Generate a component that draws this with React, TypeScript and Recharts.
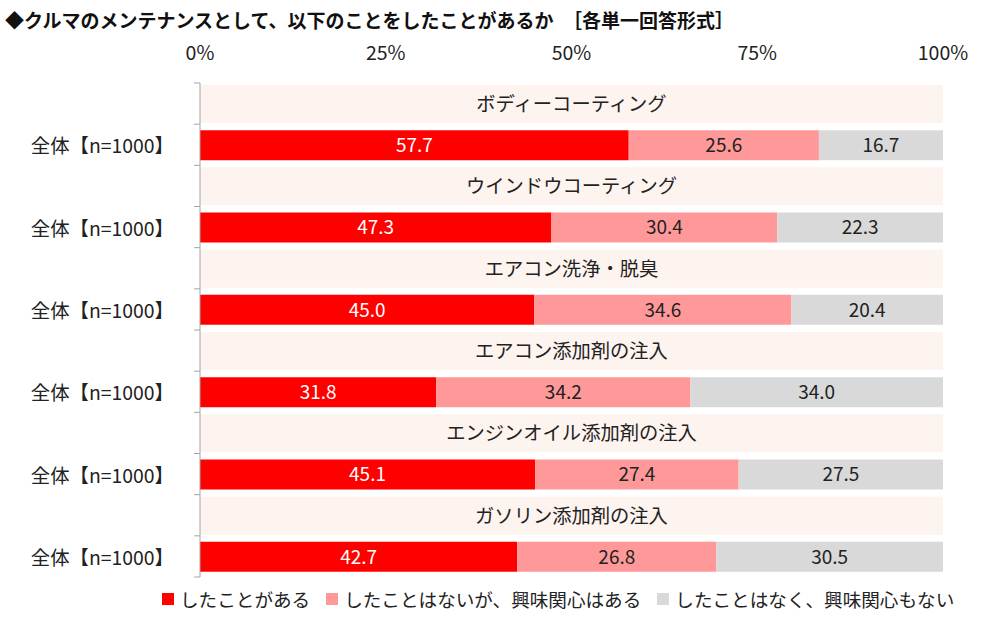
import { BarChart, Bar, XAxis, YAxis, LabelList, Legend } from 'recharts';

const FONT = '"Noto Sans CJK JP", "Noto Sans", sans-serif';

// survey items, one per header band
const items = [
  'ボディーコーティング',
  'ウインドウコーティング',
  'エアコン洗浄・脱臭',
  'エアコン添加剤の注入',
  'エンジンオイル添加剤の注入',
  'ガソリン添加剤の注入',
];
const groupLabel = '全体【n=1000】';

const seriesNames = ['したことがある', 'したことはないが、興味関心はある', 'したことはなく、興味関心もない'];
const done = [57.7, 47.3, 45.0, 31.8, 45.1, 42.7];
const interested = [25.6, 30.4, 34.6, 34.2, 27.4, 26.8];
const notInterested = [16.7, 22.3, 20.4, 34.0, 27.5, 30.5];

const xTicks = [0, 25, 50, 75, 100];

const colors = { done: '#ff0000', interested: '#ff9999', notInterested: '#d9d9d9', band: '#fdf3ef' };

// each item takes two rows: a title band and the stacked result bar
const rows = items.flatMap((title, i) => [
  { key: `t${i}`, title, band: 100 },
  { key: `r${i}`, group: groupLabel, done: done[i], interested: interested[i], notInterested: notInterested[i] },
]);

const PLOT_TOP = 83;
const PLOT_BOTTOM = 577;
const STEP = (PLOT_BOTTOM - PLOT_TOP) / rows.length;

const fmt = (v: any) => (typeof v === 'number' ? v.toFixed(1) : '');

function CategoryTick(props: any) {
  const { y, payload } = props;
  const row = rows[payload.index];
  const top = y - STEP / 2;
  const last = payload.index === rows.length - 1;
  return (
    <g>
      <line x1={194} x2={200} y1={top} y2={top} stroke="#a6a6a6" />
      {last && <line x1={194} x2={200} y1={y + STEP / 2} y2={y + STEP / 2} stroke="#a6a6a6" />}
      {row && row.group && (
        <text x={174} y={y} textAnchor="end" dominantBaseline="central" fontSize={19.4} fill="#222" fontFamily={FONT}>
          {row.group}
        </text>
      )}
    </g>
  );
}

function BandShape(props: any) {
  const { x, y, width, height } = props;
  if (!width || width <= 0) return null;
  return <rect x={x} y={y - 4} width={width} height={height + 8} fill={colors.band} />;
}

function LegendContent(props: any) {
  const entries = (props.payload || []).filter((p: any) => p.dataKey !== 'band');
  return (
    <div style={{ display: 'flex', alignItems: 'center', fontFamily: FONT, fontSize: 18.6, color: '#222', paddingLeft: 162 }}>
      {entries.map((e: any) => (
        <div key={e.dataKey} style={{ display: 'flex', alignItems: 'center', marginRight: 16 }}>
          <span style={{ width: 12, height: 12, background: e.color, display: 'inline-block', marginRight: 6 }} />
          <span>{e.value}</span>
        </div>
      ))}
    </div>
  );
}

export default function App() {
  return (
    <div style={{ position: 'absolute', left: 0, top: 0, width: 1000, height: 619, background: '#fff' }}>
      <div
        style={{
          position: 'absolute',
          left: 5,
          top: 6,
          fontFamily: FONT,
          fontWeight: 700,
          fontSize: 19,
          lineHeight: '28px',
          color: '#111',
          whiteSpace: 'pre',
        }}
      >
        {'◆クルマのメンテナンスとして、以下のことをしたことがあるか　［各単一回答形式］'}
      </div>
      <BarChart
        width={1000}
        height={619}
        data={rows}
        layout="vertical"
        barSize={30}
        margin={{ top: 53, right: 57, bottom: 42, left: 0 }}
        style={{ position: 'absolute', left: 0, top: 0 }}
      >
        <XAxis
          type="number"
          orientation="top"
          domain={[0, 100]}
          ticks={xTicks}
          tickFormatter={(v) => `${v}%`}
          axisLine={false}
          tickLine={false}
          tickMargin={17}
          height={30}
          tick={{ fill: '#222', fontSize: 19.5, fontFamily: FONT }}
        />
        <YAxis
          type="category"
          dataKey="key"
          width={200}
          axisLine={{ stroke: '#a6a6a6' }}
          tickLine={false}
          interval={0}
          tick={<CategoryTick />}
        />
        <Legend
          layout="horizontal"
          verticalAlign="middle"
          align="center"
          wrapperStyle={{ top: 585, left: 0, width: 1000 }}
          content={<LegendContent />}
        />
        <Bar dataKey="band" stackId="s" fill={colors.band} shape={<BandShape />} legendType="none" isAnimationActive={false}>
          <LabelList dataKey="title" position="center" fill="#222" fontSize={19.3} fontFamily={FONT} />
        </Bar>
        <Bar dataKey="done" name={seriesNames[0]} stackId="s" fill={colors.done} isAnimationActive={false}>
          <LabelList dataKey="done" position="center" formatter={fmt} fill="#fff" fontSize={19} fontFamily={FONT} />
        </Bar>
        <Bar dataKey="interested" name={seriesNames[1]} stackId="s" fill={colors.interested} isAnimationActive={false}>
          <LabelList dataKey="interested" position="center" formatter={fmt} fill="#222" fontSize={19} fontFamily={FONT} />
        </Bar>
        <Bar dataKey="notInterested" name={seriesNames[2]} stackId="s" fill={colors.notInterested} isAnimationActive={false}>
          <LabelList dataKey="notInterested" position="center" formatter={fmt} fill="#222" fontSize={19} fontFamily={FONT} />
        </Bar>
      </BarChart>
    </div>
  );
}
